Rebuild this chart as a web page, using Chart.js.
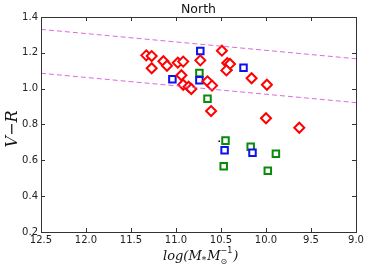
<!DOCTYPE html>
<html>
<head>
<meta charset="utf-8">
<script src="https://cdn.jsdelivr.net/npm/chart.js@4/dist/chart.umd.min.js"></script>
<style>
  html, body { margin: 0; padding: 0; background: #fff; }
  #wrap { width: 368px; height: 273px; }
</style>
</head>
<body>
<div id="wrap"><canvas id="c" width="368" height="273"></canvas></div>
<script>
// ---------------- Data ----------------
const redX = [11.33, 11.27, 11.27, 11.14, 11.10, 10.98, 10.92, 10.94, 10.92, 10.86, 10.83, 10.73,
              10.65, 10.60, 10.49, 10.43, 10.40, 10.44, 10.16, 9.99, 10.61, 10.00, 9.63];
const redY = [1.186, 1.182, 1.114, 1.153, 1.128, 1.145, 1.151, 1.075, 1.022, 1.011, 0.998, 1.158,
              1.041, 1.017, 1.212, 1.143, 1.138, 1.102, 1.058, 1.022, 0.875, 0.835, 0.782];
const blueX = [10.73, 11.04, 10.74, 10.25, 10.46, 10.15];
const blueY = [1.210, 1.052, 1.047, 1.117, 0.656, 0.643];
const greenX = [10.74, 10.65, 10.45, 10.17, 9.89, 10.47, 9.98];
const greenY = [1.087, 0.944, 0.710, 0.676, 0.637, 0.567, 0.542];
const dotX = [10.52, 10.38];
const dotY = [0.706, 1.104];
const upperX = [12.5, 9.0];
const upperY = [1.331, 1.167];
const lowerX = [12.5, 9.0];
const lowerY = [1.086, 0.922];
const xTicks = [12.5, 12.0, 11.5, 11.0, 10.5, 10.0, 9.5, 9.0];
const yTicks = [0.2, 0.4, 0.6, 0.8, 1.0, 1.2, 1.4];

const pts = (xs, ys) => xs.map((x, i) => ({x: x, y: ys[i]}));
const allCenters = pts(redX, redY).concat(pts(blueX, blueY), pts(greenX, greenY), pts(dotX, dotY));

// ---------------- Plugins ----------------
const frame = {
    id: 'frame',
    afterDatasetsDraw(chart) {
        const {ctx, chartArea: a, scales: {x, y}} = chart;
        ctx.save();
        ctx.strokeStyle = '#333';
        ctx.lineWidth = 1;
        ctx.beginPath();
        xTicks.forEach(v => {
            const px = Math.round(x.getPixelForValue(v)) + 0.5;
            ctx.moveTo(px, a.bottom); ctx.lineTo(px, a.bottom - 4);
            ctx.moveTo(px, a.top); ctx.lineTo(px, a.top + 4);
        });
        yTicks.forEach(v => {
            const py = Math.round(y.getPixelForValue(v)) + 0.5;
            ctx.moveTo(a.left, py); ctx.lineTo(a.left + 4, py);
            ctx.moveTo(a.right, py); ctx.lineTo(a.right - 4, py);
        });
        ctx.stroke();
        ctx.strokeRect(Math.round(a.left) + 0.5, Math.round(a.top) + 0.5,
                       Math.round(a.right - a.left), Math.round(a.bottom - a.top));

        // title
        ctx.fillStyle = '#111';
        ctx.font = '12.5px "DejaVu Sans"';
        ctx.textAlign = 'center';
        ctx.textBaseline = 'middle';
        ctx.fillText('North', (a.left + a.right) / 2, 10);

        // y label
        ctx.save();
        ctx.translate(13, 129);
        ctx.rotate(-Math.PI / 2);
        ctx.font = 'italic 16px "DejaVu Serif"';
        ctx.fillText('V\u2212R', 0, 0);
        ctx.restore();

        // x label: log(M_* M_sun^-1)
        ctx.textAlign = 'left';
        ctx.textBaseline = 'alphabetic';
        let cx = 163;
        const base = 260;
        const part = (t, font, dy) => {
            ctx.font = font;
            ctx.fillText(t, cx, base + dy);
            cx += ctx.measureText(t).width;
        };
        part('log(M', 'italic 13px "DejaVu Serif"', 0);
        part('*', '9px "DejaVu Serif"', 3);
        cx += 1;
        part('M', 'italic 13px "DejaVu Serif"', 0);
        const sx = cx;
        part('\u2299', '8px "DejaVu Sans"', 4);
        cx = sx;
        part('\u22121', '8px "DejaVu Sans"', -7);
        cx += 1;
        part(')', 'italic 13px "DejaVu Serif"', 0);
        ctx.restore();
    }
};

// ---------------- Chart ----------------
const marker = (style, color, r) => ({
    pointStyle: style, pointRadius: r, pointHoverRadius: r,
    borderColor: color, backgroundColor: '#fff', pointBorderWidth: 2, showLine: false
});
const dashed = {
    type: 'line', borderColor: 'rgba(214, 80, 214, 0.85)', borderWidth: 1, borderDash: [5, 3],
    pointRadius: 0, fill: false, tension: 0
};

new Chart(document.getElementById('c'), {
    type: 'scatter',
    data: {
        datasets: [
            Object.assign({data: pts(upperX, upperY)}, dashed),
            Object.assign({data: pts(lowerX, lowerY)}, dashed),
            Object.assign({data: pts(redX, redY)}, marker('rectRot', '#ff0000', 5)),
            Object.assign({data: pts(blueX, blueY)}, marker('rect', '#1010ee', 4.6)),
            Object.assign({data: pts(greenX, greenY)}, marker('rect', '#0a8a0a', 4.6)),
            {data: allCenters, pointStyle: 'rect', pointRadius: 1.1, pointBorderWidth: 0,
             borderColor: '#000', backgroundColor: '#000', showLine: false}
        ]
    },
    options: {
        responsive: false,
        animation: false,
        events: [],
        layout: {padding: {top: 17, right: 12, left: 0, bottom: 0}},
        plugins: {legend: {display: false}, tooltip: {enabled: false}, title: {display: false}},
        scales: {
            x: {
                type: 'linear', reverse: true, min: 9.0, max: 12.5,
                afterBuildTicks: s => { s.ticks = xTicks.map(v => ({value: v})); },
                afterFit: s => { s.height = 41; },
                grid: {display: false, drawTicks: false},
                border: {display: false},
                ticks: {
                    color: '#222', font: {family: 'DejaVu Sans', size: 10}, padding: 2,
                    maxRotation: 0, autoSkip: false,
                    callback: v => v.toFixed(1)
                }
            },
            y: {
                type: 'linear', min: 0.2, max: 1.4,
                afterBuildTicks: s => { s.ticks = yTicks.map(v => ({value: v})); },
                afterFit: s => { s.width = 41; },
                grid: {display: false, drawTicks: false},
                border: {display: false},
                ticks: {
                    color: '#222', font: {family: 'DejaVu Sans', size: 10}, padding: 3,
                    autoSkip: false,
                    callback: v => v.toFixed(1)
                }
            }
        }
    },
    plugins: [frame]
});
</script>
</body>
</html>
